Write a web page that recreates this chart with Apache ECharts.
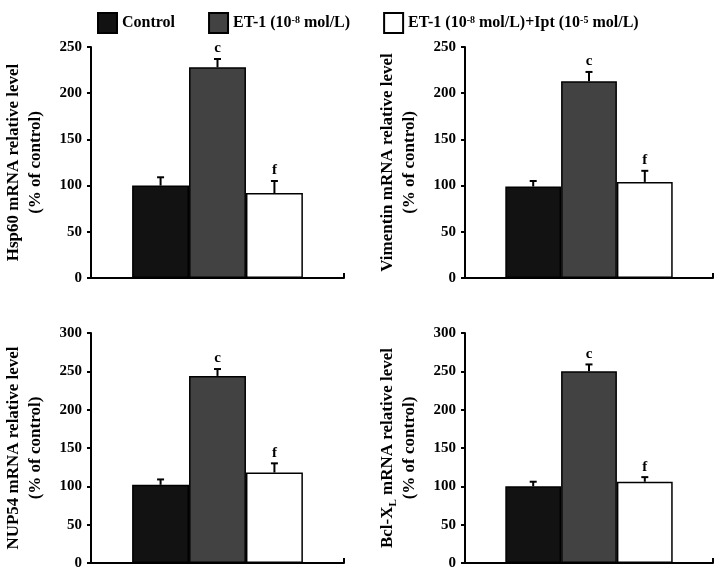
<!DOCTYPE html>
<html>
<head>
<meta charset="utf-8">
<script src="https://cdn.jsdelivr.net/npm/echarts@6/dist/echarts.min.js"></script>
<style>html,body{margin:0;padding:0;background:#fff;}#c{width:726px;height:575px;}</style>
</head>
<body>
<div id="c"></div>
<script>
// ---- data ----
const panelNames = ['Hsp60', 'Vimentin', 'NUP54', 'Bcl-XL'];
const yNames = ['Hsp60 mRNA relative level', 'Vimentin mRNA relative level', 'NUP54 mRNA relative level', 'Bcl-X{sub|L} mRNA relative level'];
const yUnit = '(% of control)';
const yMax = [250, 250, 300, 300];
const yInterval = 50;
const seriesNames = ['Control', 'ET-1 (10-8 mol/L)', 'ET-1 (10-8 mol/L)+Ipt (10-5 mol/L)'];
const legendRich = ['Control', 'ET-1 (10{sup|-8} mol/L)', 'ET-1 (10{sup|-8} mol/L)+Ipt (10{sup|-5} mol/L)'];
const controlVals = [100, 99, 102, 100];
const controlErr = [9, 6, 7, 6];
const etVals = [228, 213, 244, 250];
const etErr = [9, 10, 9, 9];
const iptVals = [92, 104, 118, 106];
const iptErr = [13, 12, 12, 6];
const sigLetters = ['', 'c', 'f'];

const colors = ['#121212', '#424242', '#ffffff'];
const FONT = '"Liberation Serif", "Times New Roman", serif';
const BARW = 0.225;

const grids = [
  {left: 91, top: 47, width: 253, height: 231},
  {left: 465, top: 47, width: 248, height: 231},
  {left: 91, top: 333, width: 253, height: 230},
  {left: 465, top: 333, width: 248, height: 230}
];

const xAxes = [], yAxes = [], series = [];
const allVals = [controlVals, etVals, iptVals];
const allErr = [controlErr, etErr, iptErr];

grids.forEach((g, i) => {
  xAxes.push({
    gridIndex: i, type: 'category', data: [panelNames[i]], boundaryGap: true,
    axisLine: {lineStyle: {color: '#000', width: 2}},
    axisTick: {show: true, inside: true, length: 5, lineStyle: {color: '#000', width: 2}},
    axisLabel: {show: false}, splitLine: {show: false}
  });
  yAxes.push({
    gridIndex: i, type: 'value', min: 0, max: yMax[i], interval: yInterval,
    name: yNames[i] + '\n' + yUnit, nameLocation: 'middle', nameRotate: 90, nameGap: 44,
    nameTextStyle: {fontFamily: FONT, fontWeight: 'bold', fontSize: 17, color: '#000', lineHeight: 22,
      rich: {sub: {fontFamily: FONT, fontWeight: 'bold', fontSize: 11, color: '#000', verticalAlign: 'bottom', padding: [8, 0, 0, 0]}}},
    axisLine: {show: true, lineStyle: {color: '#000', width: 2}},
    axisTick: {show: true, inside: false, length: 4, lineStyle: {color: '#000', width: 2}},
    axisLabel: {fontFamily: FONT, fontWeight: 'bold', fontSize: 15, color: '#000', margin: 9},
    splitLine: {show: false}
  });
  for (let k = 0; k < 3; k++) {
    series.push({
      name: seriesNames[k], type: 'bar', xAxisIndex: i, yAxisIndex: i,
      data: [allVals[k][i]], barWidth: (BARW * 100) + '%', barGap: '0%',
      itemStyle: {color: colors[k], borderColor: '#000', borderWidth: 1.5},
      emphasis: {disabled: true}
    });
  }
  series.push({
    type: 'custom', xAxisIndex: i, yAxisIndex: i, z: 5,
    data: [0, 1, 2].map(k => [0, allVals[k][i], allErr[k][i], k]),
    renderItem: function (params, api) {
      const v = api.value(1), e = api.value(2), k = api.value(3);
      const band = api.size([1, 0])[0];
      const bw = band * BARW;
      const base = api.coord([0, v]);
      const top = api.coord([0, v + e]);
      const x = base[0] + (k - 1) * bw;
      const children = [
        {type: 'line', shape: {x1: x, y1: base[1], x2: x, y2: top[1]}, style: {stroke: '#000', lineWidth: 2}},
        {type: 'line', shape: {x1: x - 3.5, y1: top[1], x2: x + 3.5, y2: top[1]}, style: {stroke: '#000', lineWidth: 2}}
      ];
      if (sigLetters[k]) {
        children.push({type: 'text', x: x, y: top[1] - 3,
          style: {text: sigLetters[k], align: 'center', verticalAlign: 'bottom', fontFamily: FONT, fontWeight: 'bold', fontSize: 15, fill: '#000'}});
      }
      return {type: 'group', children: children};
    }
  });
});

const chart = echarts.init(document.getElementById('c'));
chart.setOption({
  animation: false,
  backgroundColor: '#fff',
  legend: {
    left: 92, top: 7, itemWidth: 19, itemHeight: 20, itemGap: 33, icon: 'rect',
    data: seriesNames,
    formatter: function (name) { return legendRich[seriesNames.indexOf(name)]; },
    textStyle: {fontFamily: FONT, fontWeight: 'bold', fontSize: 16, color: '#000',
      rich: {sup: {fontFamily: FONT, fontWeight: 'bold', fontSize: 10, color: '#000', verticalAlign: 'top', padding: [0, 0, 6, 0]}}}
  },
  grid: grids.map(g => Object.assign({containLabel: false}, g)),
  xAxis: xAxes,
  yAxis: yAxes,
  series: series
});
</script>
</body>
</html>
